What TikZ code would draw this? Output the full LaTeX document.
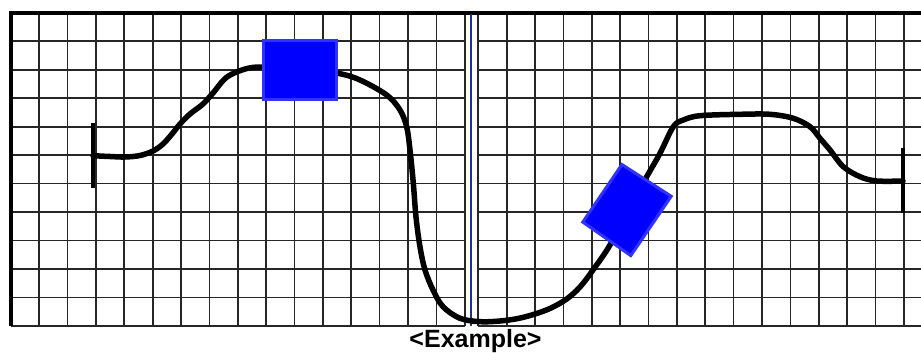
\documentclass[tikz,border=0pt]{standalone}
\usepackage{fontspec}
\setmainfont{Liberation Sans}
\definecolor{navyline}{RGB}{25,50,140}
\definecolor{boxfill}{RGB}{0,0,255}
\definecolor{boxedge}{RGB}{50,50,255}
\begin{document}
\begin{tikzpicture}[x=1pt,y=-1pt,
  gridline/.style={line width=1.7pt, draw=black!85},
  curveline/.style={line width=5.5pt, draw=black, line cap=round, line join=round},
  tickline/.style={line width=4pt, draw=black},
  bluebox/.style={fill=boxfill, draw=boxedge, line width=3pt}]
\useasboundingbox (0,0) rectangle (921,353);
% left grid
\foreach \k in {0,...,16} \draw[gridline] ({10.8+\k*28.37},12.8) -- ({10.8+\k*28.37},326);
\foreach \j in {1,...,11} \draw[gridline] (10.8,{12.8+\j*28.47}) -- (464.7,{12.8+\j*28.47});
% right grid
\foreach \k in {0,...,15} \draw[gridline] ({478.3+\k*28.37},12.8) -- ({478.3+\k*28.37},326);
\foreach \j in {1,...,11} \draw[gridline] (478.3,{12.8+\j*28.47}) -- (921,{12.8+\j*28.47});
% borders
\draw[line width=4pt] (9,12.8) -- (921,12.8);
\draw[line width=3.5pt] (10.8,11) -- (10.8,326);
% center line
\draw[navyline, line width=2pt] (470.7,14) -- (470.7,326);
% curve
\draw[curveline] plot[smooth, tension=0.55] coordinates {
 (93,155.7) (110,156.5) (125,157) (140,155.5) (153,151) (163,144) (172,134) (180,124)
 (190,114) (203,104) (213,93) (227,77) (247,68.5) (265,67) (300,68)
 (338,73.3) (360,80) (386.7,95) (400,110) (406.7,127) (410,150)
 (413.3,183) (416,217) (420,247) (425,270) (433,290) (443,306.7)
 (460,318.3) (480,321.7) (500,321) (518,318.5) (535,314) (551,308) (566.7,299)
 (580,287) (593,270)
 (610,245) (628,210) (646.7,176.7) (660,153.3) (673.3,126.7) (683.3,120)
 (700,115.7) (740,114.3) (770,114.3) (793.3,118.3) (810,126.7) (820,138.3)
 (830,150) (843.3,166.7) (860,176.7) (876.7,181) (903,181)};
% end ticks
\draw[tickline] (93.3,123.3) -- (93.3,188.3);
\draw[tickline] (903.3,148.3) -- (903.3,212.7);
% boxes
\draw[bluebox] (263.5,40.8) rectangle (336.8,99.5);
\draw[bluebox] (621.9,164.5) -- (671.2,196.3) -- (630.8,255.6) -- (582.8,222.1) -- cycle;
% caption
\node[anchor=base, inner sep=0pt, font=\bfseries\fontsize{25}{30}\selectfont] (caption) at (475.5,347) {<Example>};
\end{tikzpicture}
\end{document}
